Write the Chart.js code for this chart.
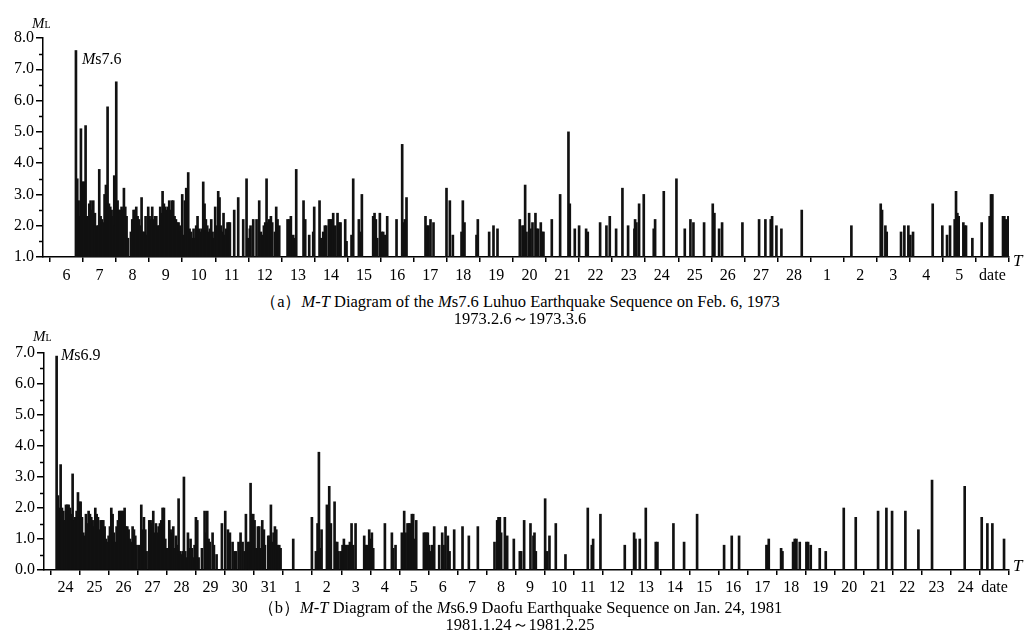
<!DOCTYPE html>
<html><head><meta charset="utf-8">
<script src="https://cdn.jsdelivr.net/npm/chart.js@4/dist/chart.umd.min.js"></script>
<style>
html,body{margin:0;padding:0;background:#fff;}
body{width:1024px;height:639px;position:relative;overflow:hidden;font-family:"Liberation Serif","Times New Roman",serif;color:#000;}
.box{position:absolute;left:0;width:1024px;height:285px;}
.lbl{position:absolute;white-space:nowrap;line-height:1;}
.cap{position:absolute;left:0;width:1040px;text-align:center;font-size:16.5px;line-height:1;white-space:nowrap;}
i{font-style:italic;}
</style></head><body>
<div class="box" style="top:0"><canvas id="ca"></canvas></div>
<div class="box" style="top:315px"><canvas id="cb"></canvas></div>

<div class="lbl" style="left:32px;top:16px;font-size:15px"><i>M</i><span style="font-size:10px">L</span></div>
<div class="lbl" style="left:82px;top:51px;font-size:16px"><i>M</i>s7.6</div>
<div class="lbl" style="left:1013px;top:252px;font-size:17px"><i>T</i></div>
<div class="cap" style="top:294px">（a）<i>M-T</i> Diagram of the <i>M</i>s7.6 Luhuo Earthquake Sequence on Feb. 6, 1973</div>
<div class="cap" style="top:311px">1973.2.6～1973.3.6</div>

<div class="lbl" style="left:33px;top:329px;font-size:15px"><i>M</i><span style="font-size:10px">L</span></div>
<div class="lbl" style="left:61px;top:347px;font-size:16px"><i>M</i>s6.9</div>
<div class="lbl" style="left:1013px;top:557px;font-size:17px"><i>T</i></div>
<div class="cap" style="top:600px">（b）<i>M-T</i> Diagram of the <i>M</i>s6.9 Daofu Earthquake Sequence on Jan. 24, 1981</div>
<div class="cap" style="top:617px">1981.1.24～1981.2.25</div>

<script>
// ---- Panel (a): Luhuo 1973, time in days since 1973-02-06 00:00 ----
const tickLabelsA = ['6','7','8','9','10','11','12','13','14','15','16','17','18','19','20','21','22','23','24','25','26','27','28','1','2','3','4','5','date',''];
const timesA = [
0.786,0.826,0.866,0.907,0.937,0.967,1.008,1.038,1.078,1.108,1.159,1.189,1.229,1.270,1.310,1.360,1.411,1.461,1.491,1.532,1.572,1.612,1.652,1.693,1.733,1.743,1.783,1.824,1.864,1.904,1.945,1.975,
2.005,2.045,2.086,2.126,2.166,2.207,2.237,2.277,2.317,2.358,2.448,2.489,2.529,2.569,2.610,2.650,2.690,2.730,2.771,2.811,2.851,2.892,2.932,2.972,
3.013,3.053,3.093,3.134,3.174,3.214,3.254,3.295,3.335,3.375,3.406,3.446,3.486,3.526,3.567,3.607,3.647,3.688,3.728,3.768,3.809,3.849,3.889,3.929,3.970,
4.000,4.040,4.081,4.121,4.181,4.222,4.262,4.302,4.343,4.383,4.423,4.463,4.504,4.544,4.584,4.635,4.675,4.715,4.756,4.796,4.836,4.877,4.917,4.957,4.997,
5.038,5.088,5.128,5.169,5.209,5.249,5.290,5.330,5.370,5.411,5.441,5.572,5.693,5.844,5.945,5.995,
6.045,6.066,6.147,6.248,6.328,6.379,6.429,6.469,6.510,6.550,6.590,6.630,6.681,6.721,6.802,6.842,6.882,6.933,
7.185,7.235,7.285,7.356,7.406,7.447,7.668,7.719,7.840,7.961,7.991,
8.152,8.192,8.263,8.313,8.354,8.434,8.474,8.515,8.565,8.626,8.696,8.747,8.787,8.928,8.968,
9.119,9.170,9.341,9.381,9.432,9.774,9.815,9.855,9.895,9.976,
10.026,10.077,10.137,10.198,10.480,10.651,10.691,10.732,10.782,
11.356,11.407,11.447,11.507,11.598,11.991,12.092,12.183,12.445,12.485,12.535,12.898,12.938,
13.281,13.412,13.533,14.208,14.288,14.329,14.369,14.409,14.490,14.530,14.591,14.681,14.711,14.762,14.842,14.883,14.923,
15.175,15.427,15.679,15.719,15.870,16.001,16.213,16.263,16.636,16.827,16.928,
17.120,17.311,17.482,17.674,17.694,17.734,17.815,17.956,18.258,18.299,18.561,18.944,
19.196,19.367,19.458,19.780,20.042,20.092,20.234,20.324,20.939,21.443,
21.634,21.796,21.836,21.967,22.118,22.733,24.234,
25.121,25.161,25.262,25.302,25.735,25.836,25.957,26.018,26.098,26.693,26.985,
27.126,27.217,27.358,27.398,27.439,27.479,27.620,27.660,27.700,27.892,
28.174,28.416,28.456,28.497,28.819,28.859,28.900,28.980];
const magsA = [
7.6,3.5,2.8,2.3,5.1,3.4,3.4,3.4,5.2,2.3,2.3,2.7,2.8,2.5,2.8,2.4,2.0,2.0,3.8,2.3,2.2,2.1,3.0,3.3,2.7,5.8,2.7,2.6,2.5,2.3,3.6,2.0,
6.6,2.8,2.5,2.5,2.6,2.5,3.2,2.6,2.3,1.6,1.8,2.2,2.5,2.5,2.6,2.3,2.2,2.0,2.9,1.8,1.8,2.3,1.7,2.6,
2.3,2.2,2.6,2.2,2.3,2.3,2.0,2.0,2.6,2.4,3.1,2.7,2.6,2.5,2.6,2.8,2.5,2.8,2.8,2.3,2.2,2.1,2.1,2.0,1.8,
3.0,1.7,2.8,3.2,3.7,1.9,1.8,1.6,1.9,1.6,2.0,2.3,1.9,1.8,1.9,3.4,2.7,2.2,2.0,1.8,1.9,2.2,1.8,1.6,2.6,
2.0,3.1,2.9,2.0,1.8,2.4,1.7,1.9,2.1,2.1,2.1,2.5,2.9,2.2,3.5,1.6,
1.9,2.0,2.2,2.2,2.8,1.8,1.7,2.0,2.1,3.5,2.1,2.2,2.3,2.1,1.8,2.6,2.2,2.0,
2.2,2.2,2.3,1.7,1.6,3.8,2.8,2.2,1.7,1.8,2.6,
2.8,1.6,1.8,2.0,2.0,2.2,2.2,2.2,2.4,2.0,2.4,2.1,2.1,2.2,1.5,
1.7,3.5,2.2,1.8,3.0,2.3,2.4,2.2,1.6,2.4,
1.8,1.8,1.7,2.3,2.2,4.6,2.1,2.2,2.9,
2.3,2.0,2.0,2.2,2.1,3.2,2.8,1.7,1.8,2.8,2.1,1.7,2.2,
1.8,2.0,1.9,2.2,2.0,2.0,3.3,1.8,2.4,1.9,2.1,2.4,1.9,1.9,2.1,1.8,1.8,
2.2,3.0,5.0,2.7,1.9,2.0,1.9,1.8,2.1,2.0,2.3,
1.9,3.2,2.0,1.9,2.2,2.1,2.7,3.0,1.9,2.2,3.1,3.5,
1.9,2.2,2.1,2.1,2.7,2.4,1.9,2.1,2.1,2.2,
2.2,2.2,2.3,2.0,1.9,2.5,2.0,
2.7,2.5,2.0,1.8,1.8,2.0,2.0,1.7,1.8,2.7,2.0,
1.7,2.0,2.2,3.1,2.4,2.3,2.1,2.0,2.0,1.6,
2.1,2.3,3.0,3.0,2.3,2.3,2.2,2.3];

// ---- Panel (b): Daofu 1981, time in days since 1981-01-24 00:00 ----
const tickLabelsB = ['24','25','26','27','28','29','30','31','1','2','3','4','5','6','7','8','9','10','11','12','13','14','15','16','17','18','19','20','21','22','23','24','date',''];
const timesB = [
0.195,0.241,0.287,0.333,0.379,0.425,0.471,0.517,0.562,0.608,0.654,0.700,0.746,0.792,0.838,0.884,0.930,0.976,
1.022,1.067,1.113,1.159,1.205,1.251,1.297,1.343,1.389,1.435,1.481,1.527,1.573,1.618,1.664,1.710,1.756,1.802,1.848,1.894,1.940,1.986,
2.032,2.078,2.123,2.169,2.215,2.261,2.307,2.353,2.399,2.445,2.491,2.537,2.583,2.629,2.674,2.720,2.766,2.812,2.858,2.904,2.950,
3.042,3.111,3.157,3.202,3.248,3.294,3.386,3.432,3.478,3.524,3.570,3.616,3.662,3.708,3.753,3.799,3.845,3.891,3.937,3.983,
4.029,4.075,4.121,4.167,4.213,4.259,4.304,4.350,4.396,4.442,4.488,4.534,4.580,4.626,4.672,4.718,4.764,4.809,4.855,4.901,4.947,4.993,
5.039,5.085,5.200,5.292,5.337,5.383,5.429,5.475,5.567,5.613,5.705,5.888,
6.003,6.095,6.164,6.256,6.325,6.371,6.462,6.531,6.600,6.669,6.715,6.784,6.830,6.876,6.921,6.967,
7.013,7.059,7.128,7.174,7.232,7.278,7.335,7.370,7.484,7.530,7.576,7.622,7.668,7.714,7.760,7.817,7.863,7.909,
8.345,8.988,9.126,9.183,9.229,9.275,9.321,9.505,9.550,9.585,9.642,9.769,9.814,9.860,9.906,9.998,
10.044,10.090,10.136,10.182,10.251,10.296,10.354,10.411,10.492,10.790,10.836,10.882,10.962,
11.008,11.054,11.100,11.502,11.743,11.789,11.869,
12.087,12.167,12.213,12.282,12.328,12.374,12.431,12.477,12.523,12.581,12.845,12.891,12.937,12.982,
13.028,13.074,13.132,13.200,13.373,13.476,13.522,13.591,13.671,13.729,13.889,
14.176,14.394,14.704,15.278,15.370,15.416,15.462,15.507,15.634,15.714,15.943,
16.150,16.196,16.299,16.517,16.620,16.655,16.701,17.022,17.091,17.171,17.389,17.722,
18.491,18.629,18.675,18.927,19.765,20.087,20.133,20.282,20.489,20.833,20.890,
21.441,21.808,22.256,23.186,23.450,23.702,24.645,24.679,24.725,
25.150,25.196,25.563,25.620,25.678,25.792,26.022,26.079,26.171,26.481,26.688,
27.308,27.721,28.490,28.777,28.972,29.431,29.879,30.349,31.474,32.060,32.255,32.427,32.829];
const magsB = [
6.9,2.4,2.0,3.4,2.0,1.9,1.6,2.1,2.1,2.1,2.0,1.8,3.1,1.6,1.7,1.9,2.5,2.2,
2.2,1.7,1.2,1.1,1.8,1.5,1.9,1.8,1.7,1.6,1.4,2.0,1.8,1.7,1.3,1.6,1.6,1.6,1.4,1.0,0.9,1.1,
1.4,2.0,1.8,1.2,0.9,1.4,1.6,1.9,1.9,1.9,1.9,2.0,1.4,1.4,1.3,1.0,0.9,1.4,1.3,1.1,0.8,
0.8,2.1,1.3,1.7,1.3,0.6,1.6,1.6,1.5,1.9,1.2,1.5,1.2,1.4,1.5,1.6,2.0,2.0,1.0,0.7,
0.7,1.6,1.3,1.2,1.4,0.7,1.1,0.8,2.3,0.6,0.5,0.6,3.0,0.6,0.4,1.2,0.7,1.0,0.7,0.4,0.8,1.7,
1.6,0.4,0.7,1.9,1.2,1.9,1.0,0.9,1.2,0.8,0.5,1.5,
1.9,1.3,1.2,0.9,0.6,0.6,0.9,1.2,0.9,0.6,1.8,0.9,0.9,2.8,1.8,1.8,
1.6,0.7,1.4,1.4,0.7,1.6,1.3,0.8,1.1,1.1,2.1,0.9,1.2,1.4,1.3,0.8,0.8,0.7,
1.0,1.7,0.6,1.5,3.8,0.7,1.3,2.1,1.9,2.7,1.5,2.2,0.9,0.9,0.6,0.6,
0.8,1.0,0.8,0.8,0.8,0.9,1.5,0.8,1.5,1.1,0.8,0.8,1.3,
1.0,1.2,0.7,1.5,1.2,0.7,0.8,
1.2,1.9,1.2,1.5,1.5,1.5,1.8,1.8,1.0,1.6,1.2,1.2,1.2,1.2,
0.8,0.6,0.8,1.4,0.8,1.2,0.8,1.4,1.1,0.6,1.3,
1.4,1.1,1.4,0.9,1.6,1.7,1.7,1.2,1.7,1.1,1.0,
0.6,0.6,1.6,1.5,1.1,1.2,0.6,2.3,0.6,1.1,1.5,0.5,
2.0,0.8,1.0,1.8,0.8,1.2,1.0,1.0,2.0,0.9,0.9,
1.5,0.9,1.8,0.8,1.1,1.1,0.8,0.8,1.0,
0.7,0.6,0.9,1.0,1.0,0.9,0.9,0.9,0.8,0.7,0.6,
2.0,1.7,1.9,2.0,1.9,1.9,1.3,2.9,2.7,1.7,1.5,1.5,1.0];

const FONT = '"Liberation Serif","Times New Roman",serif';

const minorTicks = {
  id: 'minorTicks',
  afterDraw(chart) {
    const y = chart.scales.y, ctx = chart.ctx;
    ctx.save();
    ctx.strokeStyle = '#000';
    ctx.lineWidth = 1.5;
    for (let v = y.min + 0.5; v < y.max; v += 1) {
      const p = Math.round(y.getPixelForValue(v)) + 0.5;
      ctx.beginPath();
      ctx.moveTo(y.right - 4, p);
      ctx.lineTo(y.right, p);
      ctx.stroke();
    }
    ctx.restore();
  }
};

function makeChart(id, times, mags, labels, xMin, yMin, yMax, xHeight, yWidth, labelOff, labelPad) {
  const data = times.map((t, i) => ({ x: t, y: mags[i] }));
  return new Chart(document.getElementById(id), {
    type: 'bar',
    data: { datasets: [{ data, backgroundColor: '#111', borderWidth: 0, barThickness: 2 }] },
    plugins: [minorTicks],
    options: {
      responsive: true, maintainAspectRatio: false, animation: false,
      layout: { padding: { top: 38, right: 15, left: 0, bottom: 0 } },
      plugins: { legend: { display: false }, tooltip: { enabled: false } },
      scales: {
        x: {
          type: 'linear', min: xMin, max: labels.length - 1, offset: false,
          afterBuildTicks: s => { s.ticks = labels.map((_, i) => ({ value: i })); },
          afterFit: s => { s.height = xHeight; },
          grid: { offset: false, drawOnChartArea: false, drawTicks: true, tickLength: 5, color: '#000', lineWidth: 1.5 },
          border: { color: '#000', width: 1.5 },
          ticks: { autoSkip: false, maxRotation: 0, minRotation: 0, labelOffset: labelOff, padding: labelPad,
                   color: '#000', font: { family: FONT, size: 16 }, callback: (v, i) => labels[i] }
        },
        y: {
          min: yMin, max: yMax,
          afterFit: s => { s.width = yWidth; },
          grid: { drawOnChartArea: false, drawTicks: true, tickLength: 7, color: '#000', lineWidth: 1.5 },
          border: { color: '#000', width: 1.5 },
          ticks: { stepSize: 1, padding: 2, color: '#000', font: { family: FONT, size: 16 },
                   callback: v => Number(v).toFixed(1) }
        }
      }
    }
  });
}

makeChart('ca', timesA, magsA, tickLabelsA, -0.21, 1, 8, 28, 43, 16.5, 4);
makeChart('cb', timesB, magsB, tickLabelsB, -0.24, 0, 7, 30, 44, 14.5, 3);
</script>
</body></html>
